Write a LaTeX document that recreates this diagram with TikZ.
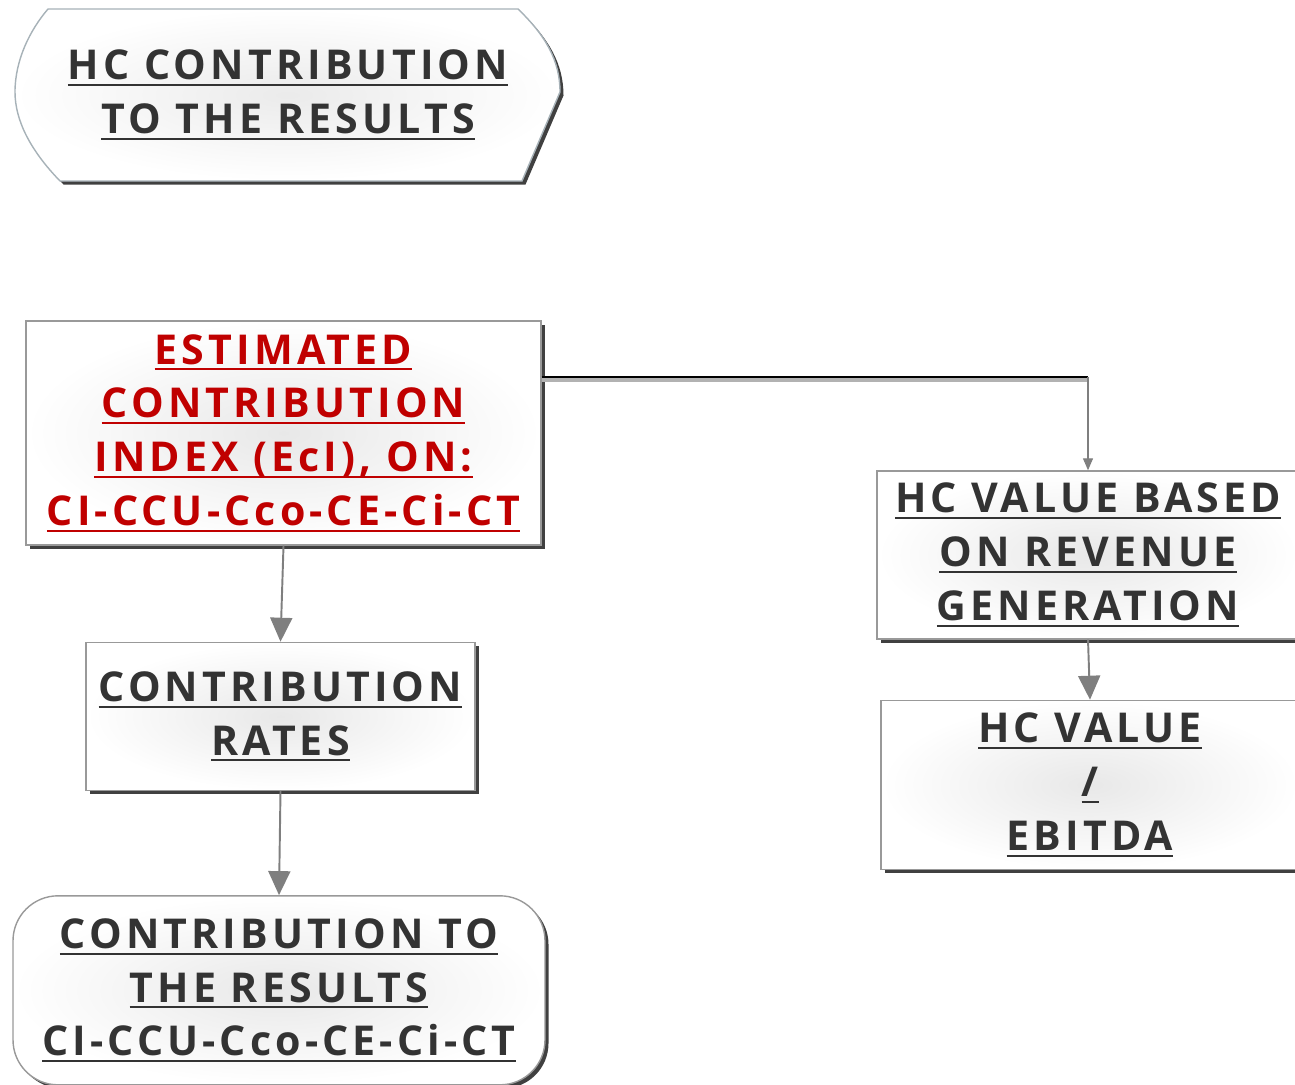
\documentclass[tikz,border=0pt]{standalone}
\usepackage{fontspec}
\newfontfamily\boxfont{Open Sans}[LetterSpace=10]
\usepackage{tikz}
\usetikzlibrary{positioning}
\usetikzlibrary{arrows.meta}
\usetikzlibrary{shadows}
\definecolor{txtgray}{HTML}{333333}
\definecolor{txtred}{HTML}{C00000}
\definecolor{linegray}{HTML}{7F7F7F}
\definecolor{framegray}{HTML}{A7B2B8}
\newcommand{\ultext}[1]{\setbox0=\hbox{#1}\rlap{\rule[-3.6pt]{\wd0}{1.1pt}}\box0}

\begin{document}
\begin{tikzpicture} [thick,
        lbl/.style = {text=txtgray, font=\boxfont\bfseries\fontsize{23.4}{30.6}\selectfont, align=center, inner sep=0pt},
        box/.style = {lbl, draw=gray!80, line width=0.8pt, inner color=black!9, outer color=white,
            drop shadow={shadow xshift=0.07cm, shadow yshift=-0.07cm, opacity=0.75, fill=black}},
        arr/.style = {draw=linegray, line width=1.1pt, -{Triangle[width=0.44cm, length=0.48cm]}}]
        \useasboundingbox (0,0) rectangle (25.9,-21.68);

        %Felder
        \draw[draw=framegray, line width=0.8pt, inner color=black!8, outer color=white,
            drop shadow={shadow xshift=0.07cm, shadow yshift=-0.07cm, opacity=0.75, fill=black}]
            (0.96,-0.18) -- (10.36,-0.18) .. controls (10.9,-0.7) and (11.2,-1.2) .. (11.2,-1.84)
            -- (10.44,-3.62) -- (1.2,-3.62) .. controls (0.6,-3.0) and (0.3,-2.4) .. (0.3,-1.84)
            .. controls (0.3,-1.2) and (0.6,-0.6) .. (0.96,-0.18) -- cycle;
        \node[lbl] (hc) at (5.76,-1.9) {\ultext{HC CONTRIBUTION}\\\ultext{TO THE RESULTS}};

        \node[box, text=txtred, minimum width=10.3cm, minimum height=4.48cm] (est) at (5.67,-8.66)
            {\ultext{ESTIMATED}\\\ultext{CONTRIBUTION}\\\ultext{INDEX (EcI), ON:}\\\ultext{CI-CCU-Cco-CE-Ci-CT}};
        \node[box, minimum width=7.78cm, minimum height=2.96cm] (rates) [below = 1.92cm of est, xshift=-0.06cm]
            {\ultext{CONTRIBUTION}\\\ultext{RATES}};
        \node[box, rounded corners=0.9cm, minimum width=10.64cm, minimum height=3.78cm] (res) [below = 2.08cm of rates, xshift=-0.03cm]
            {\ultext{CONTRIBUTION TO}\\\ultext{THE RESULTS}\\\ultext{CI-CCU-Cco-CE-Ci-CT}};

        \node[box, minimum width=8.44cm, minimum height=3.36cm] (hcv) at (21.76,-11.1)
            {\ultext{HC VALUE BASED}\\\ultext{ON REVENUE}\\\ultext{GENERATION}};
        \node[box, minimum width=8.36cm, minimum height=3.38cm] (ebitda) [below = 1.2cm of hcv, xshift=0.04cm]
            {\ultext{HC VALUE}\\\ultext{/}\\\ultext{EBITDA}};

        %Verbindungen
        \draw[arr] (est.south) -- (rates.north);
        \draw[arr] (rates.south) -- (res.north);
        \draw[arr] (hcv.south) -- (ebitda.north);

        \path ([yshift=1.12cm]est.east) coordinate (estout);
        \coordinate (bend) at (estout -| hcv.north);
        \draw[line width=2.5pt, black!30] ([yshift=-0.05cm]estout) -- ([yshift=-0.05cm]bend);
        \draw[line width=0.8pt, black] (estout) -- (bend);
        \draw[draw=linegray, line width=0.6pt, -{Triangle[width=0.2cm, length=0.24cm]}] (bend) -- (hcv.north);

    \end{tikzpicture}
\end{document}
